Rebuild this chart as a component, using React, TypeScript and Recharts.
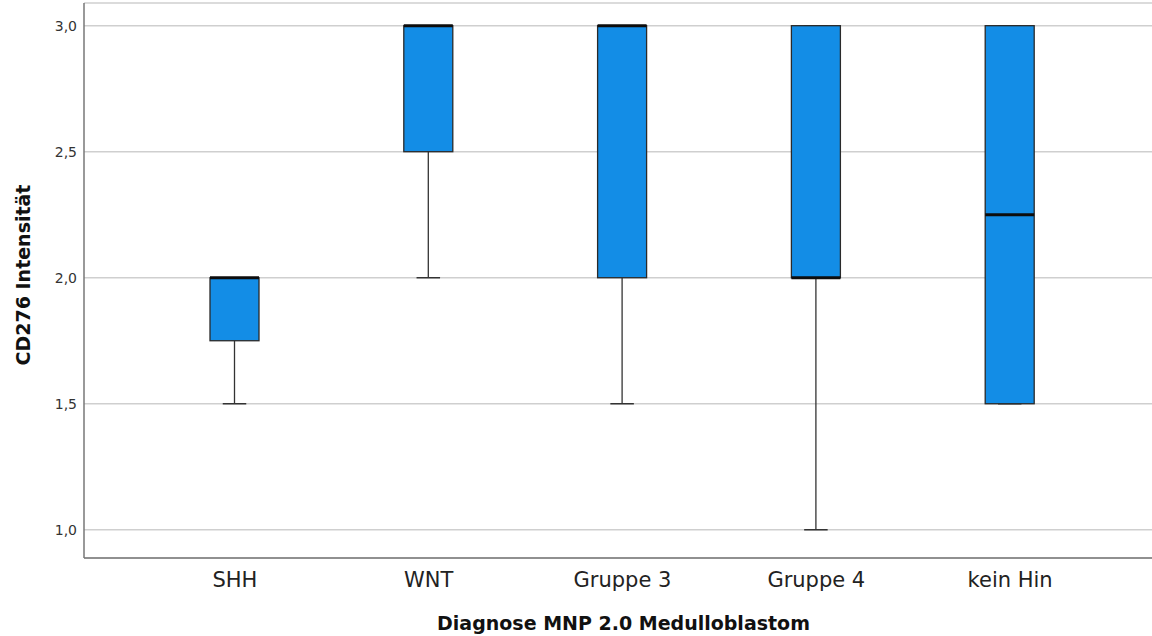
import React from 'react';
import { ComposedChart, Bar, XAxis, YAxis, CartesianGrid, Label } from 'recharts';

const categories = ['SHH', 'WNT', 'Gruppe 3', 'Gruppe 4', 'kein Hin'];
const mins = [1.5, 2.0, 1.5, 1.0, 1.5];
const q1s = [1.75, 2.5, 2.0, 2.0, 1.5];
const medians = [2.0, 3.0, 3.0, 2.0, 2.25];
const q3s = [2.0, 3.0, 3.0, 3.0, 3.0];
const maxs = [2.0, 3.0, 3.0, 3.0, 3.0];
const yTicks = [1.0, 1.5, 2.0, 2.5, 3.0];

const data = categories.map((c, i) => ({
  name: c,
  min: mins[i],
  q1: q1s[i],
  median: medians[i],
  q3: q3s[i],
  max: maxs[i],
  range: [mins[i], maxs[i]],
}));

const FONT = '"DejaVu Sans", sans-serif';

const BoxShape = (props: any) => {
  const { x, y, width, height, payload } = props;
  const top = Math.min(y, y + height);
  const bottom = Math.max(y, y + height);
  const { min, q1, median, q3, max } = payload;
  const pix = (v: number) => (max === min ? top : bottom - ((v - min) / (max - min)) * (bottom - top));
  const cx = x + width / 2;
  const capW = width * 0.48;
  const yQ1 = pix(q1);
  const yQ3 = pix(q3);
  const yMed = pix(median);
  const yMin = pix(min);
  const yMax = pix(max);
  return (
    <g>
      {yMin > yQ1 && <line x1={cx} x2={cx} y1={yQ1} y2={yMin} stroke="#333" strokeWidth={1.3} />}
      {yMax < yQ3 && <line x1={cx} x2={cx} y1={yMax} y2={yQ3} stroke="#333" strokeWidth={1.3} />}
      <line x1={cx - capW / 2} x2={cx + capW / 2} y1={yMin} y2={yMin} stroke="#333" strokeWidth={1.5} />
      <line x1={cx - capW / 2} x2={cx + capW / 2} y1={yMax} y2={yMax} stroke="#333" strokeWidth={1.5} />
      <rect x={x} y={yQ3} width={width} height={Math.max(yQ1 - yQ3, 0)} fill="#138DE6" stroke="#2a2a2a" strokeWidth={1.3} />
      <line x1={x} x2={x + width} y1={yMed} y2={yMed} stroke="#0d0d0d" strokeWidth={3} />
    </g>
  );
};

export default function App() {
  return (
    <div style={{ position: 'absolute', left: 0, top: 0, width: 1152, height: 636, overflow: 'hidden', background: '#fff' }}>
      <ComposedChart
        width={1170}
        height={636}
        data={data}
        margin={{ top: 3, right: 9, bottom: 0, left: 0 }}
      >
        <CartesianGrid horizontal vertical={false} stroke="#cfcfcf" strokeWidth={1.5} />
        <XAxis
          dataKey="name"
          type="category"
          padding={{ left: 54, right: 54 }}
          height={78}
          axisLine={{ stroke: '#777', strokeWidth: 1.5 }}
          tickLine={false}
          interval={0}
          tick={{ fontFamily: FONT, fontSize: 21, fill: '#222' }}
          tickMargin={8}
        >
          <Label
            content={(p: any) => {
              const vb = p.viewBox;
              return (
                <text x={vb.x + vb.width / 2 + 1} y={630} textAnchor="middle" fontFamily={FONT} fontSize={19} fontWeight="bold" fill="#111">
                  Diagnose MNP 2.0 Medulloblastom
                </text>
              );
            }}
          />
        </XAxis>
        <YAxis
          type="number"
          domain={[0.888, 3.09]}
          allowDataOverflow
          ticks={yTicks}
          width={84}
          axisLine={{ stroke: '#777', strokeWidth: 1.5 }}
          tickLine={false}
          tickSize={7}
          tickMargin={0}
          tickFormatter={(v: number) => v.toFixed(1).replace('.', ',')}
          tick={{ fontFamily: FONT, fontSize: 14, fill: '#333' }}
        >
          <Label
            content={() => (
              <text x={23} y={275} transform="rotate(-90 23 275)" textAnchor="middle" dominantBaseline="central" fontFamily={FONT} fontSize={19} fontWeight="bold" fill="#111">
                CD276 Intensität
              </text>
            )}
          />
        </YAxis>
        <Bar dataKey="range" barSize={49} shape={<BoxShape />} isAnimationActive={false} />
      </ComposedChart>
    </div>
  );
}
